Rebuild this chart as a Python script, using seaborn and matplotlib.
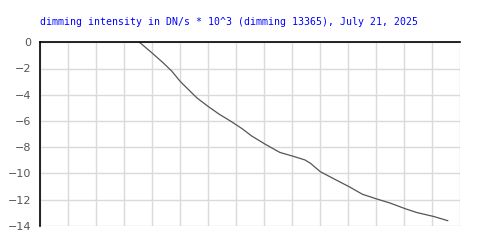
import matplotlib
matplotlib.use("Agg")
import matplotlib.pyplot as plt
import seaborn as sns
import pandas as pd

title = "dimming intensity in DN/s * 10^3 (dimming 13365), July 21, 2025"
x_vals = [3.55, 4.0, 4.4, 4.7, 5.0, 5.3, 5.6, 6.0, 6.4, 6.8, 7.2, 7.55, 8.05,
          8.55, 9.0, 9.45, 9.65, 10.0, 10.6, 11.05, 11.5, 12.0, 12.5, 13.05,
          13.45, 14.05, 14.55]
y_vals = [0.0, -0.82, -1.58, -2.2, -2.98, -3.62, -4.25, -4.9, -5.5, -6.02,
          -6.58, -7.15, -7.8, -8.4, -8.68, -8.98, -9.24, -9.88, -10.55, -11.05,
          -11.6, -11.95, -12.28, -12.72, -13.0, -13.3, -13.62]
y_ticks = [0, -2, -4, -6, -8, -10, -12, -14]

df = pd.DataFrame({"x": x_vals, "y": y_vals})

sns.set_theme(style="white")
fig = plt.figure(figsize=(5, 2.5), dpi=100)
ax = fig.add_axes([40/500, 1 - 225.7/250, (460.5 - 40)/500, (225.7 - 42.3)/250])

sns.lineplot(data=df, x="x", y="y", ax=ax, color="#555555", linewidth=0.9)

ax.set_xlim(0, 15)
ax.set_ylim(-14, 0)
ax.set_xticks(range(0, 16))
ax.set_yticks(y_ticks)
ax.set_xticklabels([])
ax.set_yticklabels([str(v).replace("-", "\u2212") for v in y_ticks],
                   fontsize=8, color="#555555", family="DejaVu Sans")
ax.tick_params(axis="both", length=0, pad=6)
ax.grid(True, color="#dadada", linewidth=1)
ax.set_axisbelow(True)
ax.set_xlabel("")
ax.set_ylabel("")
for s in ["bottom", "right"]:
    ax.spines[s].set_visible(False)
ax.spines["top"].set_color("black")
ax.spines["left"].set_color("black")
ax.spines["top"].set_linewidth(1.2)
ax.spines["left"].set_linewidth(1.2)

fig.text(40/500, 1 - 22/250, title, ha="left", va="center",
         color="#0000ff", fontsize=7.15, family="DejaVu Sans Mono")

fig.savefig("out.png", dpi=100, facecolor="white")
